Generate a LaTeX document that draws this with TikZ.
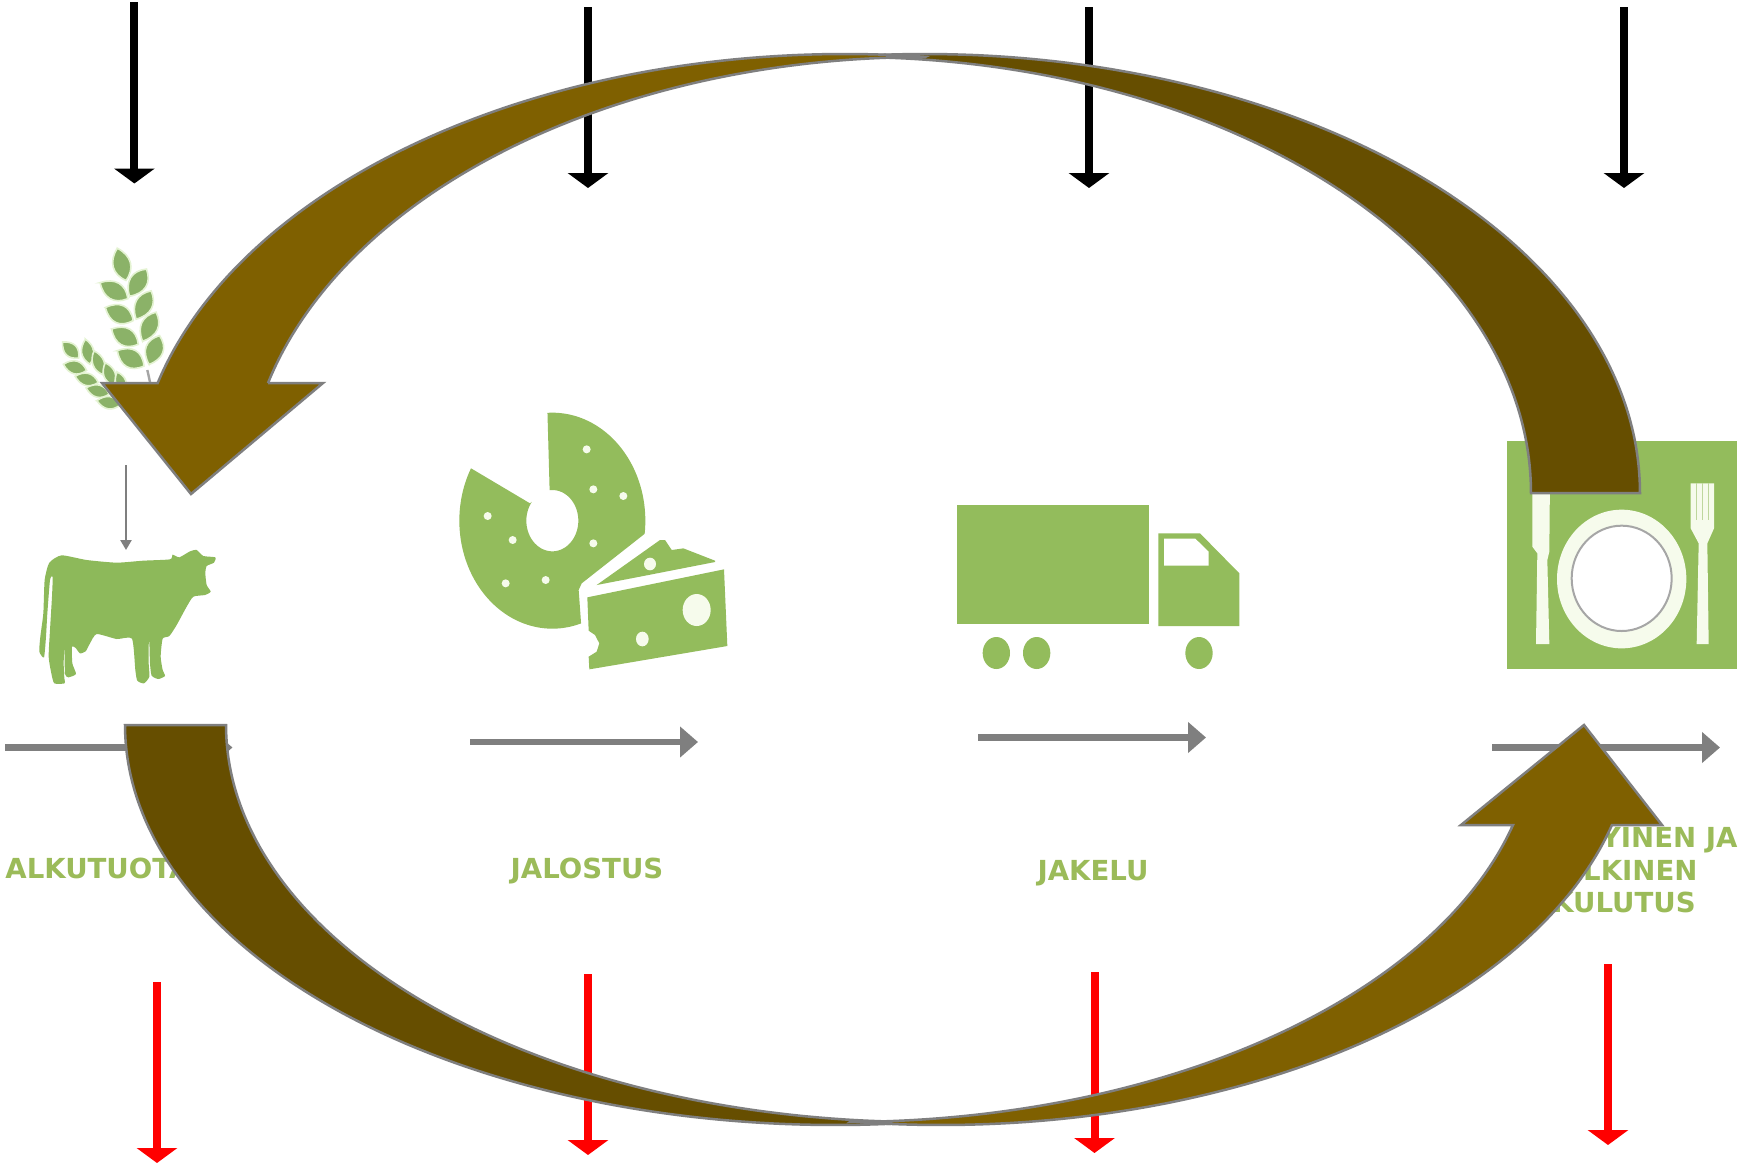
\documentclass[tikz,border=0pt]{standalone}
\usepackage{fontspec}
\setmainfont{DejaVu Sans}
\usetikzlibrary{arrows.meta}
\definecolor{iconGreen}{HTML}{93BC5C}
\definecolor{cowGreen}{HTML}{8DB95A}
\definecolor{labelGreen}{HTML}{9BBB59}
\definecolor{leafGreen}{HTML}{8BB268}
\definecolor{haloGreen}{HTML}{E4F3D2}
\definecolor{creamWhite}{HTML}{F6FBEC}
\definecolor{brownLight}{HTML}{7F6000}
\definecolor{brownDark}{HTML}{664E00}
\definecolor{flowGrey}{HTML}{7F7F7F}
\newcommand{\wheatleaf}[5]{\fill[leafGreen,draw=haloGreen,line width=0.8pt,shift={(#1,#2)},rotate=-#3] (-#4-6,0) .. controls ({-0.4*#4},{1.35*#5+3}) and ({0.5*#4},{1.35*#5+3}) .. (#4+6,0) .. controls ({0.5*#4},{-1.35*#5-3}) and ({-0.4*#4},{-1.35*#5-3}) .. cycle;}
\tikzset{
  inflow/.style={line width=4pt,draw=black,-{Triangle[length=7.5pt,width=20pt]}},
  outflow/.style={line width=4pt,draw=red,-{Triangle[length=7.5pt,width=20pt]}},
  chainflow/.style={line width=3.2pt,draw=flowGrey,-{Triangle[length=9pt,width=15pt]}},
  smallflow/.style={line width=1.25pt,draw=flowGrey,-{Triangle[length=5pt,width=5.5pt]}},
  stagelabel/.style={font=\bfseries\fontsize{13.8}{16.25}\selectfont,text=labelGreen,inner sep=0pt,align=center},
  bigarrow/.style={draw=flowGrey,line width=1.25pt,line join=miter,miter limit=10},
}
\begin{document}
\begin{tikzpicture}[x=0.5pt,y=-0.5pt]
\useasboundingbox (0,0) rectangle (1742,1168);
\fill[white] (0,0) rectangle (1742,1168);

% coordinates of the flows
\coordinate (b1s) at (134.4,2);   \coordinate (b1e) at (134.4,183.5);
\coordinate (b2s) at (588,7);     \coordinate (b2e) at (588,188);
\coordinate (b3s) at (1089,7);    \coordinate (b3e) at (1089,188);
\coordinate (b4s) at (1624,7);    \coordinate (b4e) at (1624,188);
\coordinate (r1s) at (157,982);   \coordinate (r1e) at (157,1163);
\coordinate (r2s) at (588,974);   \coordinate (r2e) at (588,1155);
\coordinate (r3s) at (1094.5,972);\coordinate (r3e) at (1094.5,1153);
\coordinate (r4s) at (1608,964);  \coordinate (r4e) at (1608,1145);
\coordinate (g1s) at (5,747.5);   \coordinate (g1e) at (232.5,747.5);
\coordinate (g2s) at (470,742);   \coordinate (g2e) at (698,742);
\coordinate (g3s) at (978,737.5); \coordinate (g3e) at (1206,737.5);
\coordinate (g4s) at (1492,747.5);\coordinate (g4e) at (1720,747.5);
\coordinate (wheatout) at (126,465);
\coordinate (cowin) at (126,550);

% wheat
\begin{scope}[shift={(30,230)},x=0.16667pt,y=-0.16667pt]
  \draw[line width=1.2pt,flowGrey!70] (352,420) -- (362,465);
  \wheatleaf{275}{103}{75}{44}{24}
  \wheatleaf{324}{158}{-58}{42}{24}
  \wheatleaf{252}{182}{30}{42}{24}
  \wheatleaf{341}{225}{-62}{42}{23}
  \wheatleaf{268}{252}{25}{40}{25}
  \wheatleaf{358}{290}{-65}{42}{23}
  \wheatleaf{285}{320}{30}{40}{24}
  \wheatleaf{373}{360}{-70}{40}{24}
  \wheatleaf{302}{385}{30}{40}{25}
  \wheatleaf{122}{360}{45}{28}{17}
  \wheatleaf{173}{365}{80}{32}{16}
  \wheatleaf{205}{398}{70}{32}{15}
  \wheatleaf{135}{412}{15}{30}{17}
  \wheatleaf{238}{432}{70}{30}{15}
  \wheatleaf{170}{448}{15}{30}{16}
  \wheatleaf{203}{483}{15}{30}{16}
  \wheatleaf{236}{518}{10}{30}{16}
  \wheatleaf{272}{455}{70}{25}{13}
\end{scope}

% cow
\begin{scope}[shift={(30,530)},x=0.16667pt,y=-0.16667pt]
  \fill[cowGreen] plot[smooth cycle,tension=0.35] coordinates {
    (95,76) (170,90) (260,98) (340,92) (420,88) (428,74) (448,82) (480,64) (500,60) (520,78) (556,82) (552,98)
    (530,108) (526,130) (530,165) (542,185) (525,195) (490,200) (470,230) (440,285) (418,318) (398,326)
    (392,380) (398,420) (405,438) (385,447) (365,437) (360,400) (358,335) (356,345) (356,400) (358,440) (342,460)
    (322,452) (316,420) (306,326) (260,327) (200,312) (180,340) (167,364) (150,370) (137,354) (126,350)
    (127,400) (138,432) (115,442) (105,432) (104,375) (103,355) (101,400) (103,445) (104,460) (73,460) (64,430)
    (56,380) (60,300) (66,200) (68,140) (60,150) (52,250) (48,320) (42,382) (28,365) (31,320) (40,250) (44,150) (58,98)};
\end{scope}

% cheese
\begin{scope}[shift={(430,390)},x=0.16667pt,y=-0.16667pt]
  \fill[iconGreen] plot[domain=-93:7,samples=40,smooth] ({367+279*cos(\x)},{392+324*sin(\x)})
     -- (455,580) -- (446,600)
     -- plot[domain=72:209,samples=50,smooth] ({367+279*cos(\x)},{392+324*sin(\x)})
     -- (300,340)
     -- plot[domain=218:-96,samples=60,smooth] ({367+78*cos(\x)},{392+92*sin(\x)})
     -- cycle;
  \foreach \dx/\dy in {470/178,490/298,580/318,173/378,248/450,490/460,227/580,347/570}
     \fill[creamWhite] (\dx,\dy) circle[radius=12];
  \fill[iconGreen] (472,622) -- (882,538) -- (892,768) -- (478,838) -- (476,800) -- (500,785) -- (508,760) -- (495,735) -- (476,722) -- cycle;
  \fill[creamWhite] (800,660) ellipse[x radius=42,y radius=48];
  \fill[creamWhite] (637,747) ellipse[x radius=19,y radius=22];
  \fill[iconGreen] (500,585) -- (690,450) -- (705,450) -- (725,480) -- (760,475) -- (855,512) -- (855,516) -- (640,558) -- cycle;
  \fill[creamWhite] (660,522) ellipse[x radius=18,y radius=19];
\end{scope}

% truck
\begin{scope}[shift={(940,480)},x=0.16667pt,y=-0.16667pt]
  \fill[iconGreen] (52,76) rectangle (628,433);
  \fill[iconGreen] (655,160) -- (780,160) -- (898,280) -- (898,438) -- (655,438) -- cycle;
  \fill[white] (672,176) -- (766,176) -- (806,215) -- (806,257) -- (672,257) -- cycle;
  \fill[iconGreen] (169,519) ellipse[x radius=41,y radius=48];
  \fill[iconGreen] (290,519) ellipse[x radius=41,y radius=48];
  \fill[iconGreen] (777,519) ellipse[x radius=41,y radius=48];
\end{scope}

% table setting
\begin{scope}[shift={(1440,420)},x=0.16667pt,y=-0.16667pt]
  \fill[iconGreen] (202,63) rectangle (892,746);
  \fill[creamWhite] (277,160) -- (330,160) -- (328,395) -- (322,420) -- (328,672) -- (288,672) -- (292,400) -- (277,380) -- cycle;
  \fill[creamWhite] (545,477) ellipse[x radius=194,y radius=208];
  \fill[white] (545,475) ellipse[x radius=150,y radius=158];
  \draw[line width=1pt,black!35] (545,475) ellipse[x radius=150,y radius=158];
  \fill[creamWhite] (752,190) -- (822,190) -- (822,325) -- (802,370) -- (806,672) -- (770,672) -- (776,370) -- (752,325) -- cycle;
  \foreach \tx in {770,787,805}
     \draw[iconGreen!60,line width=0.5pt] (\tx,190) -- (\tx,300);
\end{scope}

% labels
\node[stagelabel,anchor=base west] (lblAlku) at (5,878) {ALKUTUOTANTO};
\node[stagelabel,anchor=base] (lblJal) at (587,878) {JALOSTUS};
\node[stagelabel,anchor=base] (lblJak) at (1093,880) {JAKELU};
\node[stagelabel] (lblKul) at (1624,870) {YKSITYINEN JA\\JULKINEN\\KULUTUS};

% grey chain flows
\draw[chainflow] (g1s) -- (g1e);
\draw[chainflow] (g2s) -- (g2e);
\draw[chainflow] (g3s) -- (g3e);
\draw[chainflow] (g4s) -- (g4e);
\draw[smallflow] (wheatout) -- (cowin);

% inflows and outflows
\draw[inflow] (b1s) -- (b1e);
\draw[inflow] (b2s) -- (b2e);
\draw[inflow] (b3s) -- (b3e);
\draw[inflow] (b4s) -- (b4e);
\draw[outflow] (r1s) -- (r1e);
\draw[outflow] (r2s) -- (r2e);
\draw[outflow] (r3s) -- (r3e);
\draw[outflow] (r4s) -- (r4e);

% big circular arrows
% top right (dark)
\draw[bigarrow,fill=brownDark] (1640,493)
  -- plot[domain=0:95.7,samples=70,smooth] ({925+715*cos(\x)},{493-439*sin(\x)})
  -- plot[domain=89.66:0,samples=70,smooth] ({850+681*cos(\x)},{493-436*sin(\x)})
  -- cycle;
% bottom left (dark)
\draw[bigarrow,fill=brownDark] (125,725)
  -- plot[domain=180:83.9,samples=70,smooth] ({835+710*cos(\x)},{725+400*sin(\x)})
  -- plot[domain=91:180,samples=70,smooth] ({923.5+697.5*cos(\x)},{725+397*sin(\x)})
  -- cycle;
% top left (light)
\draw[bigarrow,fill=brownLight] (191,494) -- (323,383) -- (268,383)
  -- plot[domain=165.4:90,samples=70,smooth] ({925+679*cos(\x)},{493-436*sin(\x)})
  -- plot[domain=83.5:165.5,samples=70,smooth] ({845+710*cos(\x)},{493-439*sin(\x)})
  -- (102,383) -- cycle;
% bottom right (light)
\draw[bigarrow,fill=brownLight] (1584,725) -- (1461,825) -- (1513,825)
  -- plot[domain=14.6:89.55,samples=70,smooth] ({844.6+690.7*cos(\x)},{725+397*sin(\x)})
  -- plot[domain=97.5:14.5,samples=70,smooth] ({941+693*cos(\x)},{725+400*sin(\x)})
  -- (1662,825) -- cycle;
\end{tikzpicture}
\end{document}
